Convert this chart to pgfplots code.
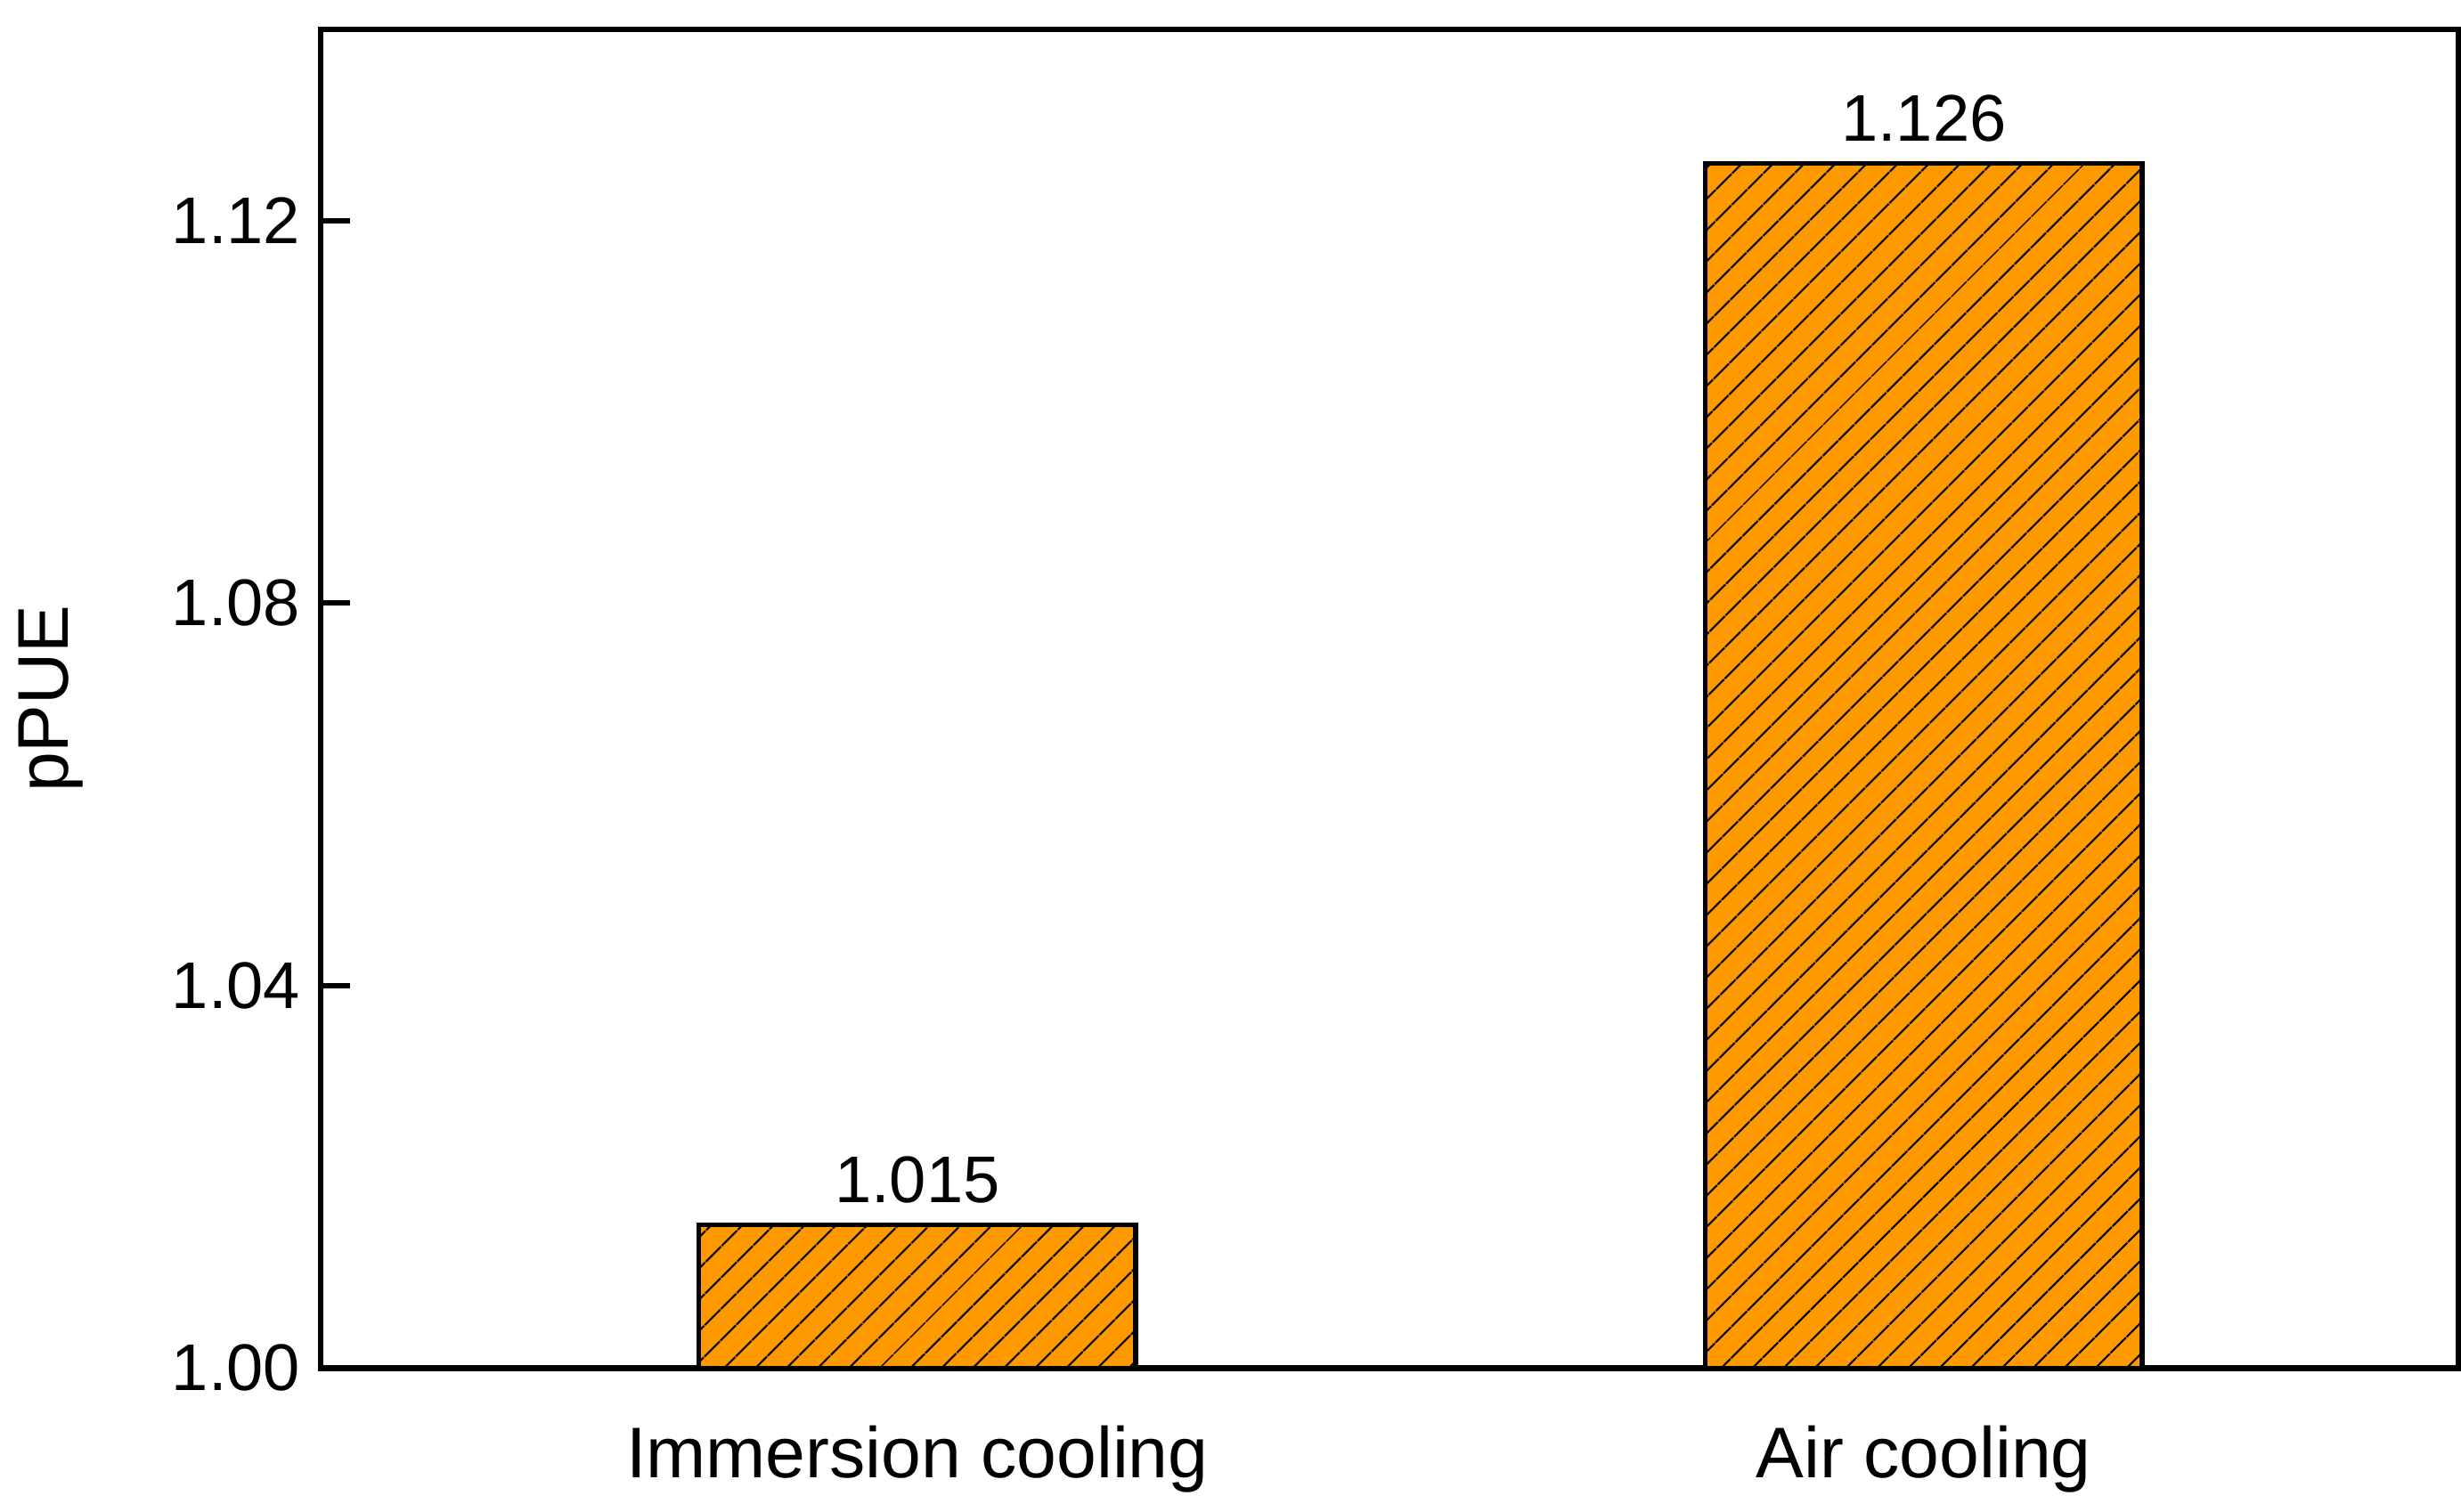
\documentclass[border=0pt]{standalone}
\usepackage{pgfplots}
\pgfplotsset{compat=1.18}
\usetikzlibrary{patterns.meta}
\usepackage{fontspec}
\setmainfont{Liberation Sans}
\definecolor{barorange}{RGB}{255,153,0}
\begin{document}
\begin{tikzpicture}
\begin{axis}[
  width=13.09cm, height=8.2cm, scale only axis,
  xmin=-0.593, xmax=1.531, ymin=1.0, ymax=1.14,
  xtick={0,1}, xticklabels={Immersion cooling, Air cooling},
  x tick style={draw=none},
  ytick={1.00,1.04,1.08,1.12},
  yticklabel style={/pgf/number format/.cd,fixed,fixed zerofill,precision=2},
  /pgf/number format/assume math mode=true,
  tick align=inside, major tick length=0.18cm, ytick pos=left,
  y tick style={black, line width=0.9pt},
  ticklabel style={font=\fontsize{11.5}{13}\selectfont},
  xticklabel style={font=\fontsize{12.5}{15}\selectfont, yshift=-0.05cm},
  ylabel={pPUE}, ylabel style={font=\fontsize{12.5}{15}\selectfont, yshift=0.3cm},
  axis line style={line width=1pt},
  ybar, bar width=0.434,
  nodes near coords,
  nodes near coords style={font=\fontsize{11.5}{13}\selectfont,/pgf/number format/.cd,fixed,fixed zerofill,precision=3},
]
\addplot[draw=black, line width=0.8pt, fill=barorange,
  postaction={pattern={Lines[angle=45,distance=4pt,line width=0.35pt]}, pattern color=black}]
  coordinates {(0,1.015) (1,1.126)};
\end{axis}
\end{tikzpicture}
\end{document}
